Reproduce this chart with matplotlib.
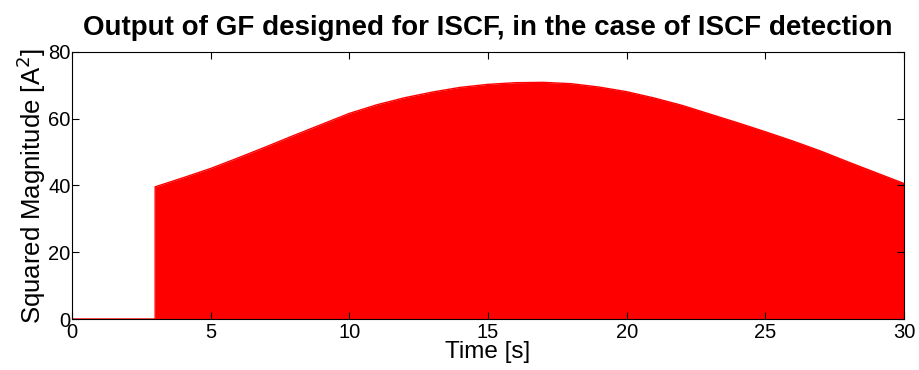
import matplotlib
matplotlib.use("Agg")
import matplotlib.pyplot as plt

plt.rcParams['font.family'] = ['Liberation Sans', 'DejaVu Sans']

# time axis [s] and squared magnitude
time_s = [0, 3, 3, 4, 5, 6, 7, 8, 9, 10, 11, 12, 13, 14, 15, 16, 17,
          18, 19, 20, 21, 22, 23, 24, 25, 26, 27, 28, 29, 30]
sq_mag = [0, 0, 39.6, 42.3, 45.1, 48.3, 51.6, 55.0, 58.3, 61.6, 64.2, 66.3,
          68.0, 69.4, 70.3, 70.8, 70.9, 70.5, 69.5, 68.1, 66.2, 64.0, 61.4,
          58.8, 56.1, 53.3, 50.3, 47.0, 43.8, 40.6]

x_ticks = [0, 5, 10, 15, 20, 25, 30]
y_ticks = [0, 20, 40, 60, 80]

fig = plt.figure(figsize=(9.19, 3.70), dpi=100)
ax = fig.add_axes([0.0783, 0.1378, 0.9054, 0.7217])

ax.fill_between(time_s, 0, sq_mag, color='#ff0000', linewidth=0)
ax.plot(time_s, sq_mag, color='#ff0000', linewidth=1)

ax.set_xlim(0, 30)
ax.set_ylim(0, 80)
ax.set_xticks(x_ticks)
ax.set_yticks(y_ticks)
ax.tick_params(direction='in', top=True, right=True, labelsize=14.5, length=5)
ax.tick_params(axis='x', pad=3)
ax.tick_params(axis='y', pad=1)
for s in ax.spines.values():
    s.set_linewidth(0.8)

ax.set_xlabel('Time [s]', fontsize=17.5, labelpad=-1)
ax.set_ylabel('Squared Magnitude [A$^2$]', fontsize=18.5, labelpad=0)
ax.set_title('Output of GF designed for ISCF, in the case of ISCF detection',
             fontsize=20, fontweight='bold', pad=12)

fig.savefig('out.png', dpi=100)
